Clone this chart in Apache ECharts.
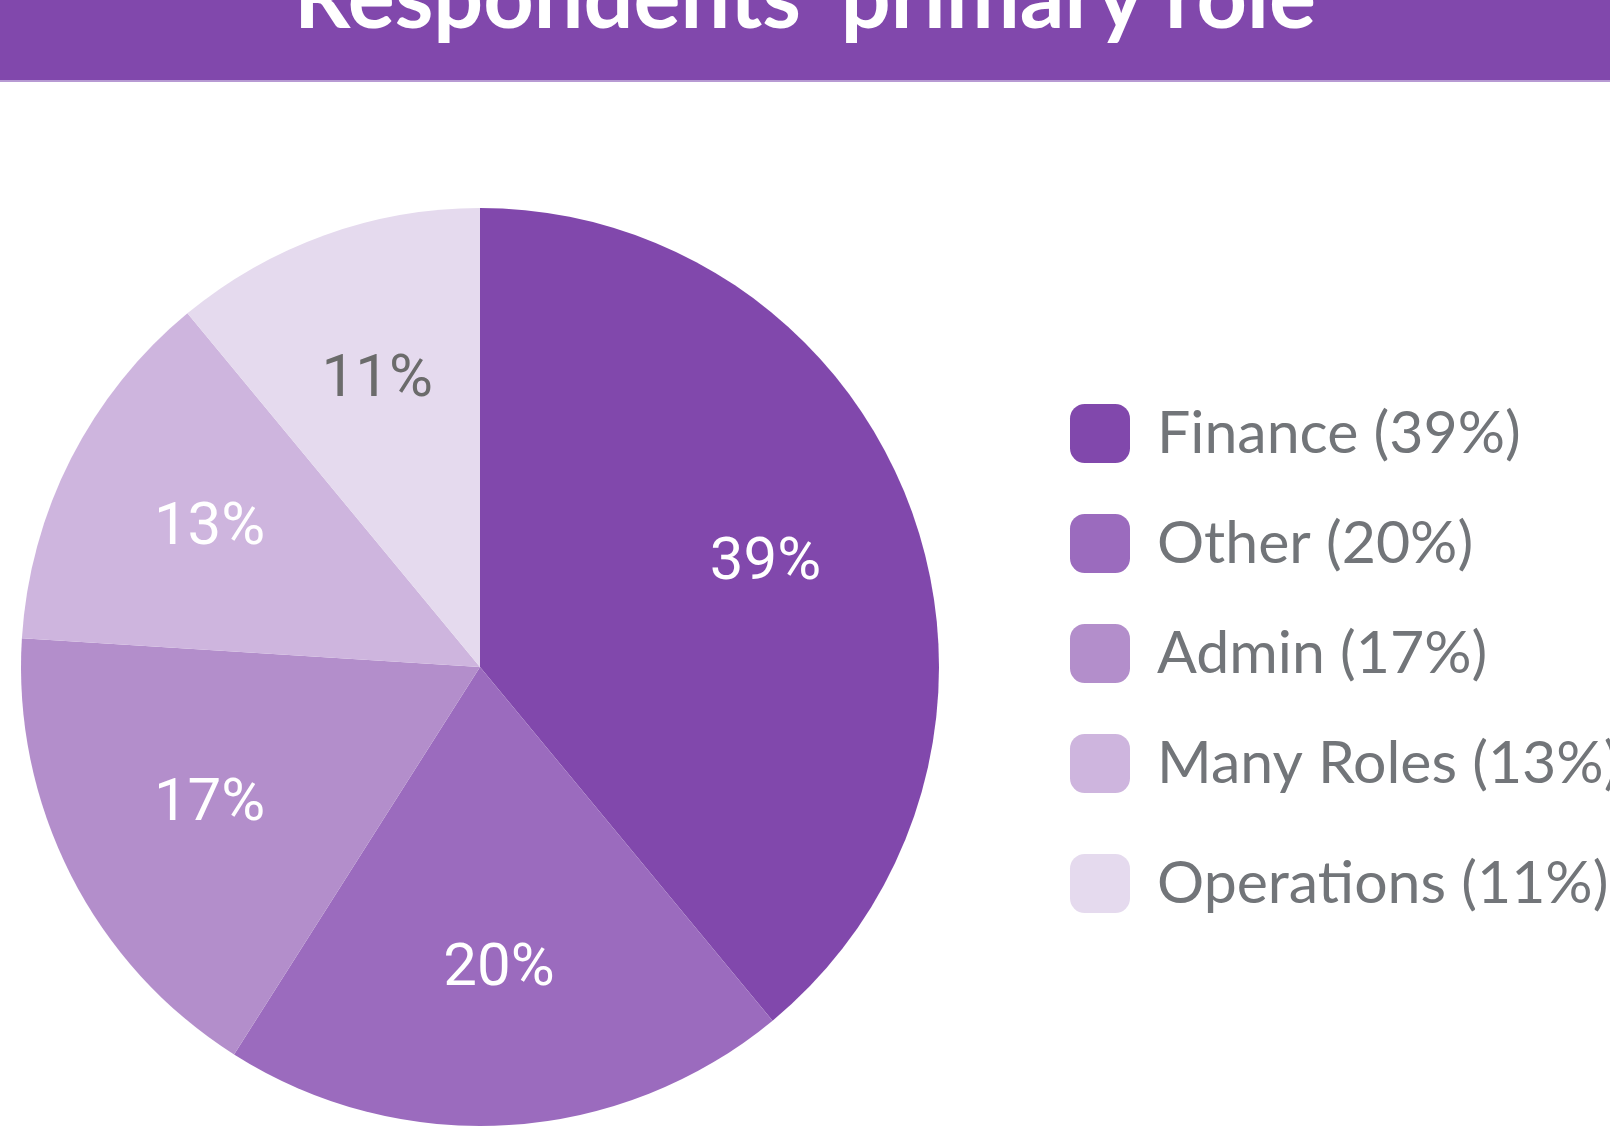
<!DOCTYPE html>
<html>
<head>
<meta charset="utf-8">
<script src="https://cdn.jsdelivr.net/npm/echarts@6/dist/echarts.min.js"></script>
<style>
  html, body { margin: 0; padding: 0; background: #fff; }
  #chart { width: 1610px; height: 1129px; }
</style>
</head>
<body>
<div id="chart"></div>
<script>
// 数据
const roles = ["Finance", "Other", "Admin", "Many Roles", "Operations"];
const shares = [39, 20, 17, 13, 11];
const palette = ["#8148AC", "#9B6BBE", "#B38ECB", "#CEB5DE", "#E5DAEE"];
const labelColors = ["#ffffff", "#ffffff", "#ffffff", "#ffffff", "#6b6b6b"];

const chart = echarts.init(document.getElementById("chart"));

const center = [480, 667];
const R = 459;

function legendFormatter(name) {
  const i = roles.indexOf(name);
  return name + " (" + shares[i] + "%)";
}

// 图例公共样式
const legendBase = {
  orient: "vertical",
  left: 1070,
  padding: 0,
  itemWidth: 60,
  itemHeight: 59,
  itemGap: 51,
  icon: "roundRect",
  formatter: legendFormatter,
  textStyle: {
    color: "#727579",
    fontFamily: "Lato",
    fontSize: 59,
    padding: [0, 0, 0, 22],
  },
};

const option = {
  backgroundColor: "#ffffff",
  color: palette,
  animation: false,
  graphic: [
    // 顶部标题栏
    { type: "rect", left: 0, top: 0, shape: { width: 1610, height: 80 }, style: { fill: "#8148AC" }, z: 0 },
    { type: "rect", left: 0, top: 80, shape: { width: 1610, height: 2 }, style: { fill: "#B79AD3" }, z: 0 },
  ],
  title: {
    text: "Respondents' primary role",
    left: "center",
    top: -49,
    textStyle: {
      color: "#ffffff",
      fontFamily: "Lato",
      fontWeight: "bold",
      fontSize: 88,
    },
    z: 10,
  },
  legend: [
    Object.assign({}, legendBase, { top: 404, data: roles.slice(0, 4) }),
    Object.assign({}, legendBase, { top: 854, data: roles.slice(4) }),
  ],
  series: [
    {
      name: "role",
      type: "pie",
      center: center,
      radius: [0, R],
      startAngle: 90,
      clockwise: true,
      label: { show: false },
      labelLine: { show: false },
      emphasis: { disabled: true },
      data: roles.map((n, i) => ({ name: n, value: shares[i] })),
    },
    {
      // 只用来放百分比标签
      name: "labels",
      type: "pie",
      center: center,
      radius: [Math.round(R * 0.31), R],
      startAngle: 90,
      clockwise: true,
      silent: true,
      itemStyle: { color: "rgba(0,0,0,0)" },
      labelLine: { show: false },
      emphasis: { disabled: true },
      label: {
        show: true,
        position: "inside",
        fontFamily: "Roboto",
        fontSize: 60,
        formatter: "{c}%",
      },
      data: roles.map((n, i) => ({
        name: n,
        value: shares[i],
        label: { color: labelColors[i] },
      })),
    },
  ],
};

chart.setOption(option);
</script>
</body>
</html>
